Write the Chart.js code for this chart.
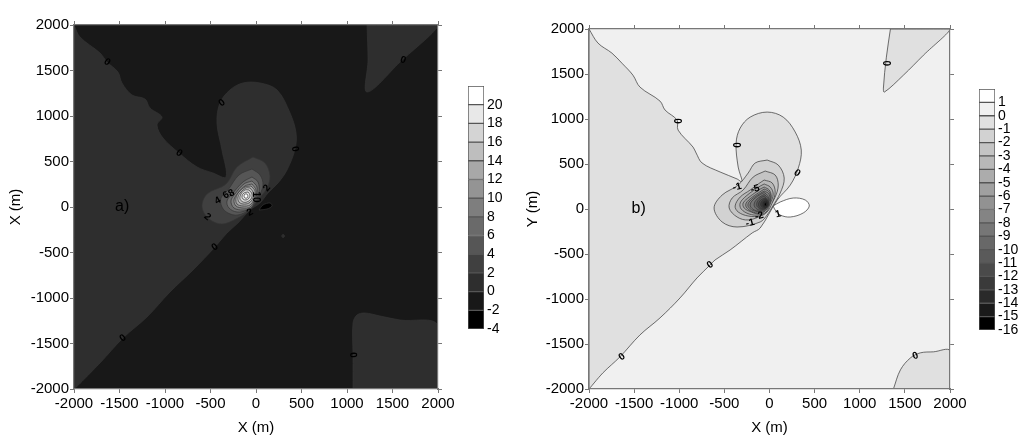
<!DOCTYPE html>
<html>
<head>
<meta charset="utf-8">
<script src="https://cdn.jsdelivr.net/npm/chart.js"></script>
<style>
  html, body { margin: 0; padding: 0; background: #fff; overflow: hidden; }
  canvas { position: absolute; filter: blur(0.4px); }
</style>
</head>
<body>
<canvas id="mapA" width="512" height="441" style="left:0;top:0"></canvas>
<canvas id="mapB" width="512" height="441" style="left:512px;top:0"></canvas>
<canvas id="barA" width="60" height="290" style="left:468px;top:60px"></canvas>
<canvas id="barB" width="45" height="290" style="left:979px;top:60px"></canvas>
<script>
// axis ticks (metres)
const axisTicks = [-2000, -1500, -1000, -500, 0, 500, 1000, 1500, 2000];

// colour bars
const barTicksA = [20, 18, 16, 14, 12, 10, 8, 6, 4, 2, 0, -2, -4];
const barColorsA = ['#ffffff', '#e8e8e8', '#d4d4d4', '#bebebe', '#a8a8a8', '#949494', '#7e7e7e', '#6a6a6a', '#565656', '#404040', '#2e2e2e', '#181818', '#000000'];
const barTicksB = [1, 0, -1, -2, -3, -4, -5, -6, -7, -8, -9, -10, -11, -12, -13, -14, -15, -16];
const barColorsB = ['#ffffff', '#f0f0f0', '#e0e0e0', '#d2d2d2', '#c4c4c4', '#b8b8b8', '#acacac', '#a0a0a0', '#929292', '#848484', '#767676', '#686868', '#5a5a5a', '#4a4a4a', '#3a3a3a', '#2a2a2a', '#1a1a1a', '#000000'];

// contour outlines, panel a (x, y in metres)
const fieldA = [[-2000,-2000],[2000,-2000],[2000,2000],[-2000,2000],[-2000,-2000]];
const a0West = [[-2000,2000],[-1934,1868],[-1714,1692],[-1637,1593],[-1517,1483],[-1473,1363],[-1363,1231],[-1220,1187],[-1165,1088],[-1033,989],[-1088,901],[-1022,758],[-846,593],[-648,440],[-473,374],[-330,330],[-374,626],[-429,923],[-396,1143],[-286,1286],[-143,1363],[44,1363],[231,1286],[374,1033],[440,813],[429,637],[341,407],[242,264],[132,154],[44,44],[-66,-33],[-198,-176],[-319,-286],[-451,-440],[-692,-692],[-945,-934],[-1198,-1209],[-1462,-1440],[-1714,-1714],[-2000,-2000],[-2000,2000]];
const a0SouthEast = [[1066,-2000],[1066,-1626],[1066,-1275],[1110,-1187],[1198,-1165],[1363,-1198],[1583,-1242],[2000,-1297],[2000,-2000],[1066,-2000]];
const a0NorthEast = [[1220,2000],[1231,1615],[1220,1264],[1583,1593],[2000,2000],[1220,2000]];
const a0Dot = [[280,-319],[297,-300],[314,-319],[297,-338],[280,-319]];
const aNeg = [[33,-33],[77,22],[154,44],[176,11],[121,-22],[33,-33]];
const a2 = [[-33,550],[99,484],[154,341],[121,209],[22,77],[-66,-33],[-220,-132],[-374,-187],[-516,-132],[-593,0],[-538,143],[-330,253],[-209,440],[-33,550]];
const a4 = [[-44,418],[44,352],[77,242],[22,99],[-66,-22],[-198,-88],[-308,-66],[-374,0],[-385,99],[-308,187],[-187,352],[-44,418]];
const a6 = [[-44,330],[22,275],[33,165],[-22,44],[-99,-33],[-209,-55],[-297,-11],[-319,66],[-253,154],[-143,275],[-44,330]];
const a8 = [[-44,286],[11,220],[0,110],[-55,-11],[-143,-33],[-242,-11],[-275,66],[-231,143],[-132,253],[-44,286]];
const a10 = [[-44,253],[0,187],[-11,88],[-66,0],[-143,-11],[-220,11],[-242,77],[-198,154],[-121,231],[-44,253]];
const a12 = [[-55,231],[-11,176],[-22,88],[-66,22],[-143,11],[-209,33],[-220,99],[-187,165],[-121,220],[-55,231]];
const a14 = [[-66,209],[-33,165],[-33,99],[-77,44],[-143,33],[-187,55],[-198,110],[-165,165],[-110,209],[-66,209]];
const a16 = [[-77,187],[-44,143],[-55,88],[-99,55],[-143,55],[-176,88],[-165,143],[-121,187],[-77,187]];
const a18 = [[-88,165],[-66,132],[-77,99],[-110,77],[-143,88],[-154,121],[-132,154],[-88,165]];
const a20 = [[-99,143],[-88,121],[-99,99],[-121,99],[-132,121],[-121,143],[-99,143]];

// contour outlines, panel b
const fieldB = [[-2000,-2000],[2000,-2000],[2000,2000],[-2000,2000],[-2000,-2000]];
const b0West = [[-2000,2000],[-1900,1843],[-1746,1732],[-1635,1620],[-1513,1487],[-1435,1354],[-1213,1199],[-1157,1099],[-1024,988],[-1013,877],[-847,688],[-813,622],[-747,511],[-547,411],[-358,333],[-303,300],[-347,466],[-370,733],[-325,899],[-214,1021],[-26,1077],[152,1021],[285,855],[352,655],[319,455],[230,266],[86,100],[-103,-211],[-192,-266],[-436,-455],[-603,-566],[-658,-622],[-803,-766],[-991,-988],[-1213,-1210],[-1435,-1399],[-1657,-1643],[-1846,-1821],[-2000,-2000],[-2000,2000]];
const b0SouthEast = [[1373,-2000],[1451,-1787],[1562,-1654],[1673,-1598],[1817,-1587],[2000,-1576],[2000,-2000],[1373,-2000]];
const b0NorthEast = [[1340,2000],[1295,1687],[1262,1343],[1273,1299],[1484,1487],[1706,1709],[2000,2000],[1340,2000]];
const bPos = [[41,33],[119,78],[263,122],[396,100],[441,33],[374,-44],[230,-89],[119,-67],[63,-11],[41,33]];
const b1 = [[-26,544],[97,488],[163,344],[119,178],[30,22],[-26,-67],[-103,-144],[-359,-200],[-525,-144],[-614,11],[-525,155],[-347,266],[-236,400],[-159,511],[-26,544]];
const b2 = [[-48,422],[63,377],[97,266],[63,133],[-14,11],[-81,-67],[-236,-122],[-359,-89],[-447,11],[-414,122],[-292,211],[-181,355],[-48,422]];
const b3 = [[-59,322],[30,289],[63,189],[30,67],[-26,-33],[-103,-78],[-236,-78],[-347,-33],[-381,33],[-325,133],[-214,211],[-125,278],[-59,322]];
const b4 = [[-59,278],[8,244],[41,167],[8,56],[-37,-33],[-114,-67],[-225,-56],[-314,0],[-325,67],[-259,144],[-170,211],[-103,255],[-59,278]];
const b5 = [[-59,244],[-3,211],[19,144],[-3,44],[-48,-22],[-114,-56],[-203,-33],[-281,11],[-292,67],[-225,133],[-148,189],[-103,222],[-59,244]];
const b6 = [[-59,222],[-8,195],[14,133],[-8,44],[-48,-16],[-114,-44],[-197,-28],[-258,22],[-258,67],[-197,128],[-125,178],[-59,222]];
const b7 = [[-59,200],[-8,170],[3,111],[-20,38],[-53,-11],[-114,-28],[-186,-16],[-236,28],[-231,72],[-181,122],[-114,167],[-59,200]];
const b8 = [[-59,183],[-20,150],[-8,100],[-31,28],[-64,-8],[-114,-22],[-170,-11],[-214,33],[-203,78],[-159,122],[-103,161],[-59,183]];
const b9 = [[-59,161],[-20,128],[-14,78],[-37,17],[-81,-8],[-137,-3],[-170,39],[-153,95],[-92,144],[-59,161]];
const b10 = [[-59,144],[-26,111],[-20,61],[-48,11],[-92,0],[-137,28],[-137,78],[-92,128],[-59,144]];
const b11 = [[-48,122],[-20,89],[-20,44],[-48,5],[-86,5],[-120,33],[-115,78],[-81,111],[-48,122]];
const b12 = [[-42,111],[-14,83],[-14,39],[-42,11],[-75,11],[-98,44],[-92,78],[-64,105],[-42,111]];
const b13 = [[-37,100],[-14,72],[-20,33],[-48,11],[-75,33],[-70,78],[-37,100]];
const b14 = [[-37,83],[-20,55],[-37,28],[-64,39],[-59,72],[-37,83]];
const b15 = [[-42,72],[-31,44],[-48,33],[-59,55],[-42,72]];

// in-plot labels: text, x, y, angle
const labelsA = [
  ['0',-1637,1593,35],['0',-374,1143,-35],['0',-846,593,35],['0',429,637,80],['0',1615,1615,20],
  ['0',-451,-440,-35],['0',-1462,-1440,-35],['0',1066,-1626,85],
  ['2',-533,-110,40],['2',121,209,-50],['4',-420,70,-30],['6',-330,130,-30],['8',-270,150,-30],['10',0,110,90],['2',-66,-60,-30]
];
const labelsB = [
  ['0',-1024,977,90],['0',-370,711,90],['0',307,400,35],['0',1284,1620,90],['0',-658,-622,-35],
  ['0',-1635,-1643,-35],['0',1617,-1632,-20],['1',97,-56,-15],['-1',-359,244,-15],['-1',-214,-155,-15],
  ['-5',-159,222,-15],['-2',-114,-78,-15]
];
const panelTagA = 'a)';
const panelTagB = 'b)';

const font = 'Liberation Sans';
const ink = '#000';

const mapText = {
  id: 'mapText',
  afterDatasetsDraw(chart, args, opts) {
    const c = chart.ctx;
    const sx = chart.scales.x, sy = chart.scales.y;
    c.save();
    c.textAlign = 'center';
    c.textBaseline = 'middle';
    c.fillStyle = '#000';
    c.font = 'bold 10px "' + font + '"';
    opts.items.forEach(([t, x, y, a]) => {
      c.save();
      c.translate(sx.getPixelForValue(x), sy.getPixelForValue(y));
      c.rotate(a * Math.PI / 180);
      c.fillText(t, 0, 0);
      c.restore();
    });
    c.fillStyle = ink;
    c.font = '16px "' + font + '"';
    c.fillText(opts.tag[0], sx.getPixelForValue(opts.tag[1]), sy.getPixelForValue(opts.tag[2]));
    c.restore();
  }
};

function frameAxis(pos, size) {
  return {
    position: pos, type: 'linear', min: -2000, max: 2000,
    afterBuildTicks: s => { s.ticks = axisTicks.map(v => ({ value: v })); },
    afterFit: s => { if (s.isHorizontal()) s.height = size; else s.width = size; },
    grid: { drawOnChartArea: false, color: '#777', tickLength: 4, z: 1 },
    border: { color: '#777', width: 1.2, z: 1 },
    ticks: { display: false }
  };
}

function drawMap(id, regions, yTitle, labels, tag, pad, titlePad) {
  const tickFont = { family: font, size: 15 };
  const x = frameAxis('bottom', 52);
  x.ticks = { color: ink, font: tickFont, padding: 2, maxRotation: 0, autoSkip: false, callback: v => String(v) };
  x.title = { display: true, text: 'X (m)', color: ink, font: tickFont, padding: { top: 0, bottom: 4 } };
  const y = frameAxis('left', pad.left);
  y.ticks = { color: ink, font: tickFont, padding: 1, autoSkip: false, callback: v => String(v) };
  y.title = { display: true, text: yTitle, color: ink, font: tickFont, padding: { top: titlePad, bottom: 0 } };
  new Chart(document.getElementById(id), {
    type: 'scatter',
    data: {
      datasets: regions.map((r, i) => ({
        data: r[0].map(p => ({ x: p[0], y: p[1] })),
        showLine: true,
        fill: 'shape',
        backgroundColor: r[1],
        borderColor: i === 0 ? r[1] : '#333',
        borderWidth: i === 0 ? 0 : 0.7,
        pointRadius: 0,
        tension: i === 0 ? 0 : 0.35,
        order: regions.length - i
      }))
    },
    options: {
      responsive: false,
      animation: false,
      events: [],
      layout: { padding: { left: 0, top: pad.top - 5, right: 69, bottom: 0 } },
      scales: { x: x, y: y, xTop: frameAxis('top', 5), yRight: frameAxis('right', 5) },
      plugins: {
        legend: { display: false },
        tooltip: { enabled: false },
        mapText: { items: labels, tag: tag }
      }
    },
    plugins: [mapText]
  });
}

function drawBar(id, ticks, colors, step, top, height, labelWidth) {
  new Chart(document.getElementById(id), {
    type: 'bar',
    data: {
      labels: [''],
      datasets: ticks.map((v, i) => ({
        data: [[v, v + step]],
        backgroundColor: colors[i],
        borderColor: '#555',
        borderWidth: 1,
        borderSkipped: false,
        barPercentage: 1,
        categoryPercentage: 1
      }))
    },
    options: {
      responsive: false,
      animation: false,
      events: [],
      layout: { padding: { left: 0, top: top, right: 0, bottom: 290 - top - height } },
      scales: {
        x: { stacked: true, display: false },
        y: {
          position: 'right',
          min: ticks[ticks.length - 1],
          max: ticks[0] + step,
          afterBuildTicks: s => { s.ticks = ticks.map(v => ({ value: v })); },
          afterFit: s => { s.width = labelWidth; },
          grid: { display: false, drawTicks: false },
          border: { display: false },
          ticks: { color: ink, font: { family: font, size: 14 }, padding: 3, autoSkip: false }
        }
      },
      plugins: { legend: { display: false }, tooltip: { enabled: false } }
    }
  });
}

drawMap('mapA', [
  [fieldA, barColorsA[11]], [a0West, barColorsA[10]], [a0SouthEast, barColorsA[10]], [a0NorthEast, barColorsA[10]],
  [a0Dot, barColorsA[10]], [aNeg, barColorsA[12]],
  [a2, barColorsA[9]], [a4, barColorsA[8]], [a6, barColorsA[7]], [a8, barColorsA[6]], [a10, barColorsA[5]],
  [a12, barColorsA[4]], [a14, barColorsA[3]], [a16, barColorsA[2]], [a18, barColorsA[1]], [a20, barColorsA[0]]
], 'X (m)', labelsA, [panelTagA, -1470, 0], { left: 74, top: 25 }, 7);

drawMap('mapB', [
  [fieldB, barColorsB[1]], [b0West, barColorsB[2]], [b0SouthEast, barColorsB[2]], [b0NorthEast, barColorsB[2]],
  [bPos, barColorsB[0]], [b1, barColorsB[3]], [b2, barColorsB[4]], [b3, barColorsB[5]], [b4, barColorsB[6]],
  [b5, barColorsB[7]], [b6, barColorsB[8]], [b7, barColorsB[9]], [b8, barColorsB[10]], [b9, barColorsB[11]],
  [b10, barColorsB[12]], [b11, barColorsB[13]], [b12, barColorsB[14]], [b13, barColorsB[15]], [b14, barColorsB[16]], [b15, barColorsB[17]]
], 'Y (m)', labelsB, [panelTagB, -1450, 0], { left: 77, top: 29 }, 12);

drawBar('barA', barTicksA, barColorsA, 2, 26, 243, 44);
drawBar('barB', barTicksB, barColorsB, 1, 29, 241, 29);
</script>
</body>
</html>
